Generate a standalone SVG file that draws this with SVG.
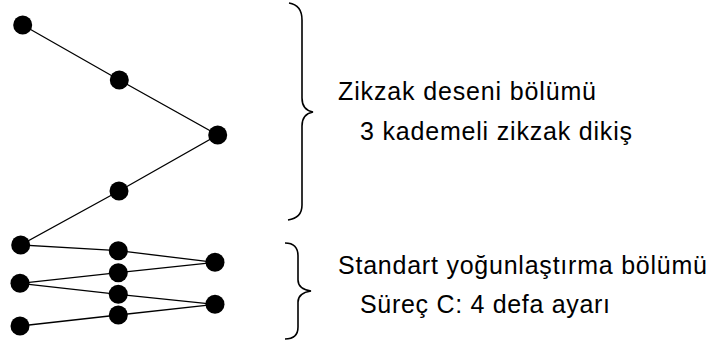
<svg xmlns="http://www.w3.org/2000/svg" width="710" height="345" viewBox="0 0 710 345">
<style>
.dot{fill:#000}
.ln{stroke:#000;stroke-width:1.3;fill:none}
.br{stroke:#000;stroke-width:1.6;fill:none}
.t{font-family:"Liberation Sans",Arial,sans-serif;font-size:25px;fill:#000}
</style>
<rect width="710" height="345" fill="#fff"/>
<g id="connectors">
<polyline class="ln" points="22.7,25 119.3,80 217.7,135 119,191 20.7,245 118.3,250.7 215,262.3 118.3,272.7 20,283.3 118.3,294.3 215,304.3 118.3,315 20,326"/>
</g>
<g id="n1"><circle class="dot" cx="22.7" cy="25" r="9.5"/></g>
<g id="n2"><circle class="dot" cx="119.3" cy="80" r="9.5"/></g>
<g id="n3"><circle class="dot" cx="217.7" cy="135" r="9.5"/></g>
<g id="n4"><circle class="dot" cx="119" cy="191" r="9.5"/></g>
<g id="n5"><circle class="dot" cx="20.7" cy="245" r="9.5"/></g>
<g id="n6"><circle class="dot" cx="118.3" cy="250.7" r="9.5"/></g>
<g id="n7"><circle class="dot" cx="215" cy="262.3" r="9.5"/></g>
<g id="n8"><circle class="dot" cx="118.3" cy="272.7" r="9.5"/></g>
<g id="n9"><circle class="dot" cx="20" cy="283.3" r="9.5"/></g>
<g id="n10"><circle class="dot" cx="118.3" cy="294.3" r="9.5"/></g>
<g id="n11"><circle class="dot" cx="215" cy="304.3" r="9.5"/></g>
<g id="n12"><circle class="dot" cx="118.3" cy="315" r="9.5"/></g>
<g id="n13"><circle class="dot" cx="20" cy="326" r="9.5"/></g>
<g id="brace-top">
<path class="br" d="M289,3 Q302,5 302,20 L302,98 Q302,110 313,112 Q302,114 302,126 L302,205 Q302,218 288,220"/>
</g>
<g id="brace-bottom">
<path class="br" d="M285,243 Q298,243 298,256 L298,280 Q298,289 311,291 Q298,293 298,302 L298,327 Q298,339 285,339"/>
</g>
<g id="label-top">
<text class="t" x="338" y="100" textLength="258" lengthAdjust="spacing">Zikzak deseni bölümü</text>
<text class="t" x="360" y="140" textLength="272" lengthAdjust="spacing">3 kademeli zikzak dikiş</text>
</g>
<g id="label-bottom">
<text class="t" x="338" y="274" textLength="369" lengthAdjust="spacing">Standart yoğunlaştırma bölümü</text>
<text class="t" x="360" y="313" textLength="250" lengthAdjust="spacing">Süreç C: 4 defa ayarı</text>
</g>
</svg>
